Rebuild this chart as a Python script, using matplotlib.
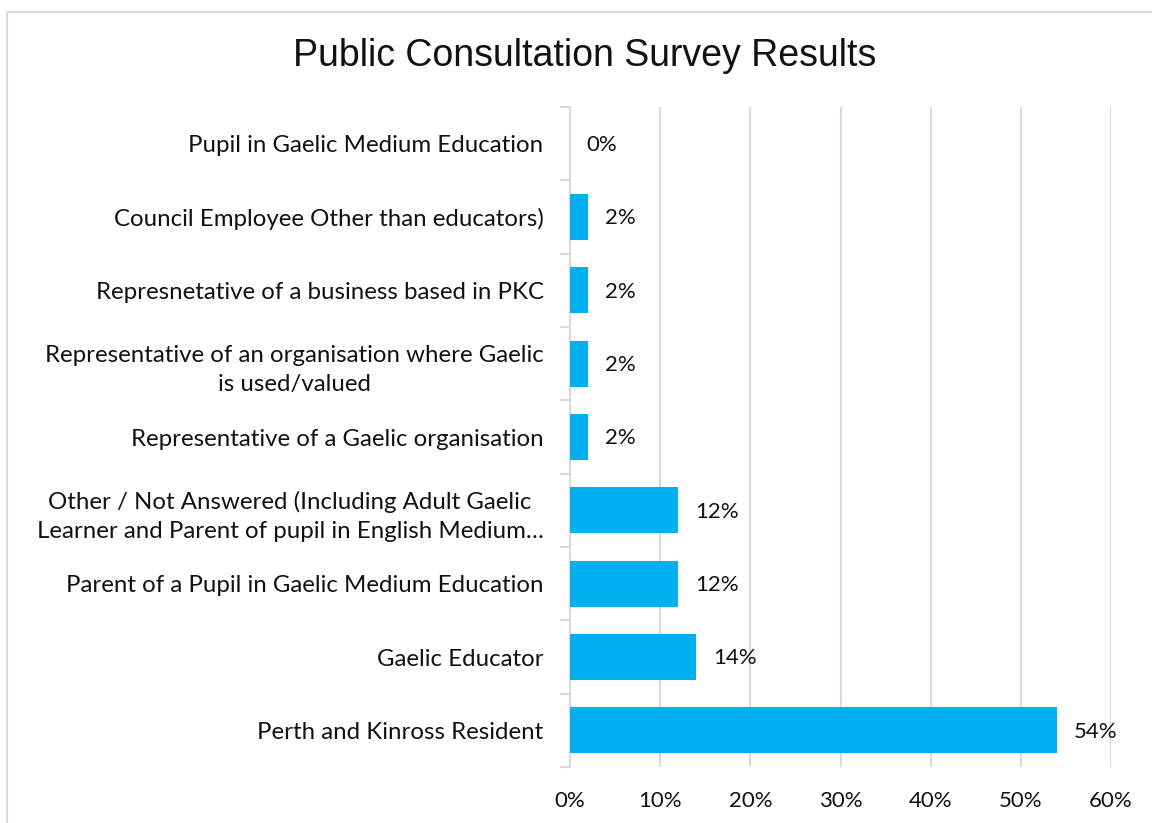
import matplotlib
matplotlib.use("Agg")
import matplotlib.pyplot as plt
from matplotlib.patches import Rectangle
from matplotlib.ticker import PercentFormatter, MultipleLocator

categories = [
    "Perth and Kinross Resident",
    "Gaelic Educator",
    "Parent of a Pupil in Gaelic Medium Education",
    "Other / Not Answered (Including Adult Gaelic\nLearner and Parent of pupil in English Medium\u2026",
    "Representative of a Gaelic organisation",
    "Representative of an organisation where Gaelic\nis used/valued",
    "Represnetative of a business based in PKC",
    "Council Employee Other than educators)",
    "Pupil in Gaelic Medium Education",
]
values = [54, 14, 12, 12, 2, 2, 2, 2, 0]
value_labels = ["54%", "14%", "12%", "12%", "2%", "2%", "2%", "2%", "0%"]
x_max = 60

W, H = 1152, 823
fig = plt.figure(figsize=(W / 100, H / 100), dpi=100)
fig.patch.set_facecolor("white")

# outer chart border (partially cropped like the reference)
fig.add_artist(Rectangle((7 / W, -0.05), 1.2, 1 - 12 / H + 0.05, transform=fig.transFigure,
                         fill=False, edgecolor="#D9D9D9", linewidth=1.5))

left, right = 570 / W, 1111 / W
top, bottom = 1 - 107 / H, 1 - 767 / H
ax = fig.add_axes([left, bottom, right - left, top - bottom])

label_font = "Lato"
ypos = list(range(len(categories)))
ax.barh(ypos, values, height=0.63, color="#00B0F0", zorder=3)
ax.set_ylim(-0.5, len(categories) - 0.5)
ax.set_xlim(0, x_max)

ax.xaxis.set_major_locator(MultipleLocator(10))
ax.xaxis.set_major_formatter(PercentFormatter(decimals=0))
ax.grid(axis="x", color="#D9D9D9", linewidth=1.5, zorder=0)
ax.set_axisbelow(True)

for s in ["top", "right", "bottom"]:
    ax.spines[s].set_visible(False)
ax.spines["left"].set_color("#D9D9D9")
ax.spines["left"].set_linewidth(1.5)

# category labels
ax.set_yticks(ypos)
ax.set_yticklabels(categories, fontsize=17.3, family=label_font, color="#111111",
                   multialignment="center", linespacing=1.5)
ax.tick_params(axis="y", length=0, pad=19)
# minor ticks at category boundaries
ax.set_yticks([i - 0.5 for i in range(len(categories) + 1)], minor=True)
ax.tick_params(axis="y", which="minor", length=7, width=1.5, color="#D9D9D9", direction="out")
ax.tick_params(axis="x", length=0, pad=17, labelsize=16, labelcolor="#111111")
for t in ax.get_xticklabels():
    t.set_family(label_font)

for y, v, lab in zip(ypos, values, value_labels):
    ax.annotate(lab, (v, y), xytext=(12, -1), textcoords="offset points",
                ha="left", va="center", fontsize=16, family=label_font, color="#111111")

fig.text(585 / W, 1 - 56 / H, "Public Consultation Survey Results", ha="center", va="center",
         fontsize=27, family="Liberation Sans", color="#111111")

fig.savefig("out.png", dpi=100)
